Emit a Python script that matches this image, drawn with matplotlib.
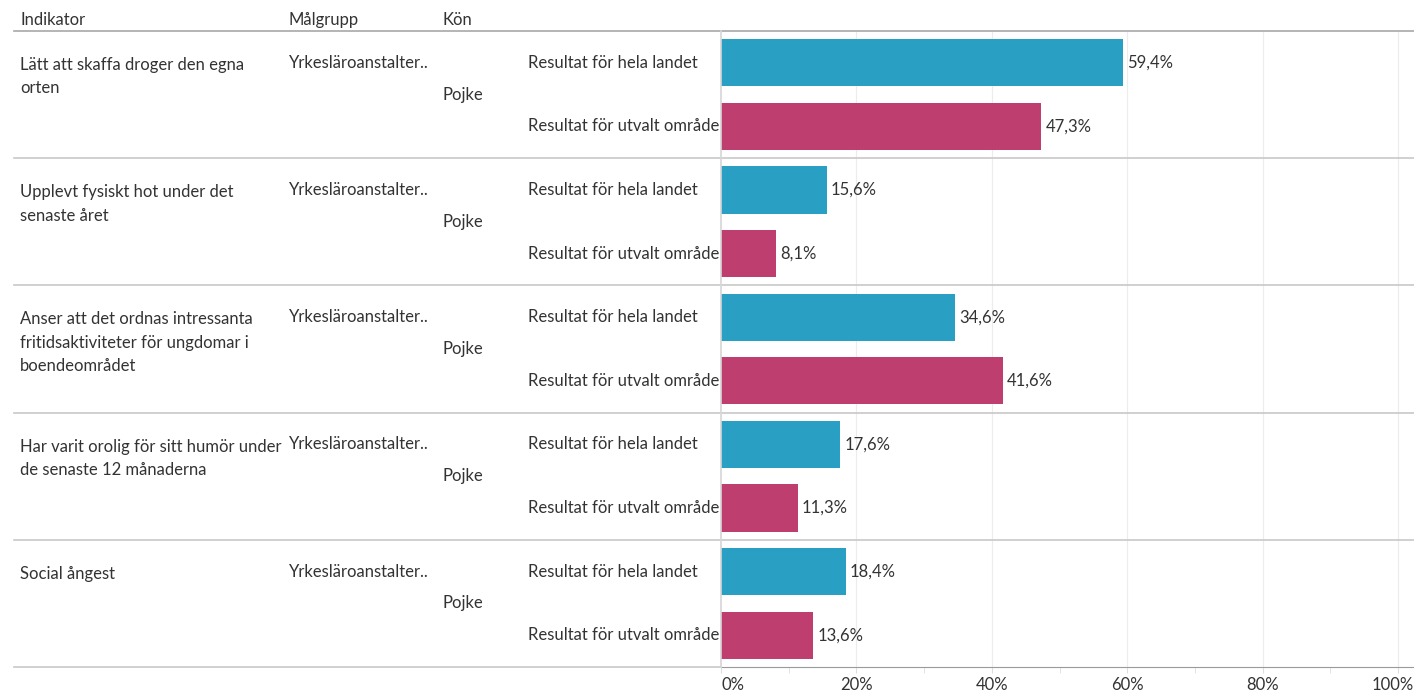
import matplotlib.pyplot as plt
from matplotlib.lines import Line2D
from matplotlib.transforms import blended_transform_factory, ScaledTranslation
from matplotlib.ticker import MultipleLocator

indikatorer = ["Lätt att skaffa droger den egna\norten",
               "Upplevt fysiskt hot under det\nsenaste året",
               "Anser att det ordnas intressanta\nfritidsaktiviteter för ungdomar i\nboendeområdet",
               "Har varit orolig för sitt humör under\nde senaste 12 månaderna",
               "Social ångest"]
malgrupp = "Yrkesläroanstalter.."
kon = "Pojke"
serier = ["Resultat för hela landet", "Resultat för utvalt område"]
hela_landet = [59.4, 15.6, 34.6, 17.6, 18.4]
utvalt = [47.3, 8.1, 41.6, 11.3, 13.6]
xticks = [0, 20, 40, 60, 80, 100]

W, H = 1414, 693
blue = "#2a9fc4"
pink = "#be3f6f"
txt = "#333333"
fs = 12
plt.rcParams['font.family'] = ['Lato', 'DejaVu Sans']

fig = plt.figure(figsize=(W / 100, H / 100), dpi=100)
# axes spans pixel x 721..1414, y 31..667 (top-down)
ax = fig.add_axes([721 / W, 1 - 667 / H, (W - 721) / W, (667 - 31) / H])
xmax = 100 * (W - 721) / 677
ax.set_xlim(0, xmax)
ax.set_ylim(len(indikatorer), 0)

n = len(indikatorer)
for i in range(n):
    ax.barh(i + 0.25, hela_landet[i], height=0.37, color=blue, zorder=3)
    ax.barh(i + 0.75, utvalt[i], height=0.37, color=pink, zorder=3)
    ax.text(hela_landet[i] + 0.6, i + 0.25, f"{hela_landet[i]:.1f}%".replace(".", ","),
            va="center", ha="left", fontsize=fs, color=txt)
    ax.text(utvalt[i] + 0.6, i + 0.75, f"{utvalt[i]:.1f}%".replace(".", ","),
            va="center", ha="left", fontsize=fs, color=txt)

for x in xticks[1:]:
    ax.axvline(x, color="#ececec", lw=0.8, zorder=0)

for s in ["top", "right", "left"]:
    ax.spines[s].set_visible(False)
ax.spines["bottom"].set_color("#9a9a9a")
ax.set_yticks([])
ax.set_xticks(xticks)
ax.set_xticklabels([f"{x}%" for x in xticks], fontsize=fs, color=txt)
ax.xaxis.set_minor_locator(MultipleLocator(10))
ax.tick_params(axis="x", which="both", length=4, color="#dedede", pad=3)
lbls = ax.get_xticklabels()
lbls[0].set_ha("left")
# pull the last label in a little so it is not clipped at the edge
lbls[-1].set_transform(lbls[-1].get_transform() + ScaledTranslation(-5 / 100, 0, fig.dpi_scale_trans))

# left table
tr = blended_transform_factory(fig.transFigure, ax.transData)
for i in range(n):
    fig.text(20 / W, i + 0.25 - 0.045, indikatorer[i], transform=tr, va="top", ha="left",
             fontsize=fs, color=txt, linespacing=1.57)
    fig.text(289 / W, i + 0.25, malgrupp, transform=tr, va="center", ha="left",
             fontsize=fs, color=txt)
    fig.text(443 / W, i + 0.5, kon, transform=tr, va="center", ha="left",
             fontsize=fs, color=txt)
    fig.text(528 / W, i + 0.25, serier[0], transform=tr, va="center", ha="left",
             fontsize=fs, color=txt)
    fig.text(528 / W, i + 0.75, serier[1], transform=tr, va="center", ha="left",
             fontsize=fs, color=txt)

# separators
for i in range(1, n):
    fig.add_artist(Line2D([14 / W, 1], [i, i], transform=tr, color="#c8c8c8", lw=1.2))
fig.add_artist(Line2D([14 / W, 721 / W], [n, n], transform=tr, color="#c8c8c8", lw=1.2))
fig.add_artist(Line2D([14 / W, 1], [0, 0], transform=tr, color="#a8a8a8", lw=1.2))
fig.add_artist(Line2D([721 / W, 721 / W], [0, n], transform=tr, color="#d6d6d6", lw=1.2))

hy = 1 - 20 / H
fig.text(20 / W, hy, "Indikator", va="center", ha="left", fontsize=fs, color=txt)
fig.text(289 / W, hy, "Målgrupp", va="center", ha="left", fontsize=fs, color=txt)
fig.text(443 / W, hy, "Kön", va="center", ha="left", fontsize=fs, color=txt)

fig.savefig("out.png", dpi=100)
